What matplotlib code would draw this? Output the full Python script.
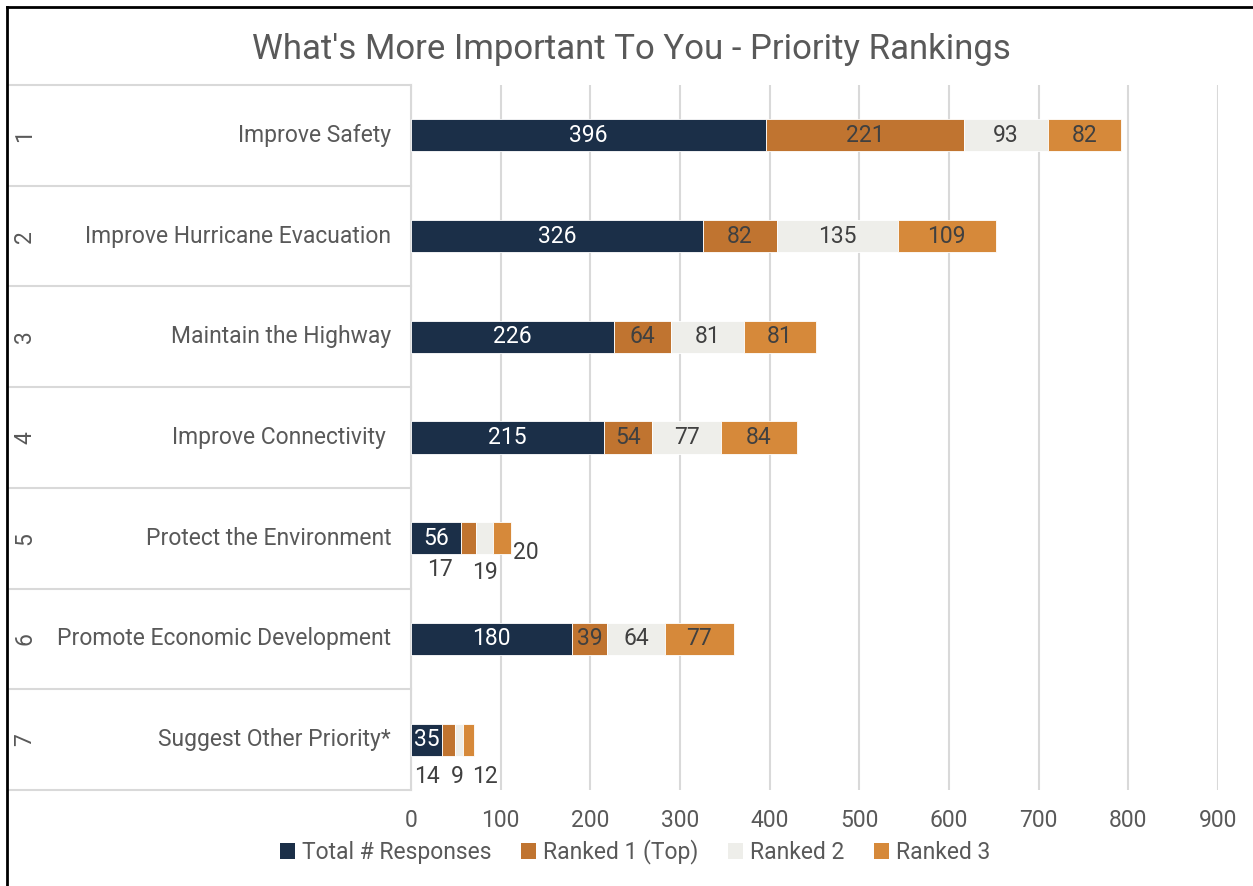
import matplotlib
matplotlib.use("Agg")
import matplotlib.pyplot as plt
import matplotlib.transforms as mtransforms
from matplotlib.lines import Line2D
from matplotlib.patches import Patch

plt.rcParams["font.family"] = ["Roboto", "DejaVu Sans"]

ranks = ["1", "2", "3", "4", "5", "6", "7"]
categories = [
    "Improve Safety",
    "Improve Hurricane Evacuation",
    "Maintain the Highway",
    "Improve Connectivity ",
    "Protect the Environment",
    "Promote Economic Development",
    "Suggest Other Priority*",
]
series_names = ["Total # Responses", "Ranked 1 (Top)", "Ranked 2", "Ranked 3"]
total = [396, 326, 226, 215, 56, 180, 35]
ranked1 = [221, 82, 64, 54, 17, 39, 14]
ranked2 = [93, 135, 81, 77, 19, 64, 9]
ranked3 = [82, 109, 81, 84, 20, 77, 12]
ticks = [0, 100, 200, 300, 400, 500, 600, 700, 800, 900]

colors = ["#1B2F48", "#C07430", "#EEEEEA", "#D6893A"]
label_colors = ["white", "#404040", "#404040", "#404040"]
grey = "#595959"
fs = 16.5

W, H = 1253, 886
fig = plt.figure(figsize=(W / 100, H / 100), dpi=100)
ax = fig.add_axes([411 / W, 1 - 790 / H, 807 / W, 705 / H])

series = [total, ranked1, ranked2, ranked3]
y = list(range(len(categories)))
left = [0] * len(categories)

# small rows whose labels don't fit inside the bar: offsets in pixels
outside = {
    (4, 1): (-29, -31), (4, 2): (0, -34), (4, 3): (23, -14),
    (6, 1): (-22, -37), (6, 2): (-2, -37), (6, 3): (17, -37),
}

for s, vals in enumerate(series):
    ax.barh(y, vals, left=left, height=0.32, color=colors[s],
            edgecolor="white", linewidth=0.6, label=series_names[s], zorder=3)
    for i, v in enumerate(vals):
        cx = left[i] + v / 2
        if (i, s) in outside:
            dx, dy = outside[(i, s)]
            ax.annotate(str(v), (cx, i), xytext=(dx, dy), textcoords="offset pixels",
                        ha="center", va="center", fontsize=fs, color="#404040")
        else:
            ax.text(cx, i, str(v), ha="center", va="center", fontsize=fs,
                    color=label_colors[s], zorder=4)
    left = [l + v for l, v in zip(left, vals)]

ax.set_xlim(0, 900)
ax.set_ylim(len(categories) - 0.5, -0.5)
ax.set_xticks(ticks)
ax.set_xticklabels([str(t) for t in ticks], fontsize=fs, color=grey)
ax.tick_params(axis="x", length=0, pad=14)
ax.set_yticks([])
ax.grid(axis="x", color="#D9D9D9", linewidth=1.5, zorder=0)
for side in ["top", "right", "bottom"]:
    ax.spines[side].set_visible(False)
ax.spines["left"].set_color("#D9D9D9")
ax.spines["left"].set_linewidth(1.5)

# category label area
trans = mtransforms.blended_transform_factory(fig.transFigure, ax.transData)
for k in range(len(categories) + 1):
    ax.add_line(Line2D([8 / W, 411 / W], [k - 0.5, k - 0.5], transform=trans,
                       color="#D9D9D9", linewidth=1.5, clip_on=False))
for i, (r, c) in enumerate(zip(ranks, categories)):
    ax.text(25 / W, i, r, transform=trans, rotation=90, ha="center", va="center",
            fontsize=fs, color=grey)
    ax.text(391 / W, i, c, transform=trans, ha="right", va="center",
            fontsize=fs, color=grey)

fig.text(631 / W, 1 - 50 / H, "What's More Important To You - Priority Rankings",
         ha="center", va="center", fontsize=25, color=grey)

handles = [Patch(facecolor=colors[s], edgecolor="none") for s in range(4)]
fig.legend(handles, series_names, loc="center", bbox_to_anchor=(635 / W, 1 - 852 / H),
           ncol=4, frameon=False, fontsize=fs, labelcolor=grey, handlelength=0.65,
           handleheight=0.65, handletextpad=0.3, columnspacing=1.3)

# frame edges visible in the screenshot
fig.add_artist(Line2D([7 / W, 7 / W], [0, 1 - 7 / H], transform=fig.transFigure,
                      color="black", linewidth=2))
fig.add_artist(Line2D([7 / W, 1], [1 - 7 / H, 1 - 7 / H], transform=fig.transFigure,
                      color="black", linewidth=2))

fig.savefig("out.png", dpi=100)
